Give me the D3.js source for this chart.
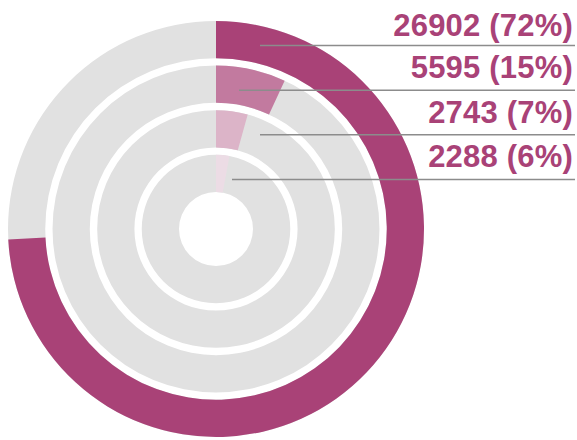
<!DOCTYPE html>
<html>
<head>
<meta charset="utf-8">
<script src="https://cdn.jsdelivr.net/npm/d3@7"></script>
<style>
    body { margin: 0; background: #fff; }
    text { font-family: "Liberation Sans", Arial, sans-serif; font-weight: bold; }
</style>
</head>
<body>
<div id="chart"></div>
<script>
// ring categories, outermost first
var rings = ["A", "B", "C", "D"];
// counts shown in the labels
var counts = [26902, 5595, 2743, 2288];
// share of the full circle covered by each coloured arc
var arcShare = [0.742, 0.069, 0.043, 0.029];
var ringColors = ["#a94277", "#c27a9f", "#dcb4c8", "#ecdce5"];

var width = 577, height = 440;
var cx = 216, cy = 229;
// where each leader line starts, measured right of the centre
var leaderInset = [44, 23, 44, 16];

var svg = d3.select("#chart").append("svg")
    .attr("width", width)
    .attr("height", height);

var g = svg.append("g")
    .attr("transform", "translate(" + cx + "," + cy + ")");

// radius band per ring (innermost ring closest to the hole)
var r = d3.scaleBand()
    .domain(rings.slice().reverse())
    .range([37, 208])
    .paddingInner(0.165);

var angle = d3.scaleLinear()
    .domain([0, 1])
    .range([0, 2 * Math.PI]);

var total = d3.sum(counts);
var pct = d3.format(".0%");

var arc = d3.arc()
    .innerRadius(function(d) { return r(d.ring); })
    .outerRadius(function(d) { return r(d.ring) + r.bandwidth(); })
    .startAngle(0)
    .endAngle(function(d) { return angle(d.share); });

var data = rings.map(function(k, i) {
    return { ring: k, count: counts[i], share: arcShare[i], color: ringColors[i], i: i };
});

// grey tracks
g.selectAll("path.track")
    .data(data)
    .enter()
    .append("path")
    .attr("class", "track")
    .attr("fill", "#e1e1e1")
    .attr("d", function(d) { return arc({ ring: d.ring, share: 1 }); });

// coloured arcs
g.selectAll("path.value")
    .data(data)
    .enter()
    .append("path")
    .attr("class", "value")
    .attr("fill", function(d) { return d.color; })
    .attr("d", arc);

// leader lines + labels
var labelRight = 573;
data.forEach(function(d) {
    var mid = r(d.ring) + r.bandwidth() / 2;
    var ly = cy - mid + 6;

    svg.append("line")
        .attr("x1", cx + leaderInset[d.i])
        .attr("x2", labelRight + 2)
        .attr("y1", ly)
        .attr("y2", ly)
        .attr("stroke", "#8c8c8c")
        .attr("stroke-width", 1.5);

    svg.append("text")
        .attr("x", labelRight)
        .attr("y", ly - (d.i == 0 ? 10 : 12))
        .attr("text-anchor", "end")
        .attr("fill", "#a94277")
        .style("font-size", "31px")
        .style("letter-spacing", "0.2px")
        .text(d.count + " (" + pct(d.count / total) + ")");
});
</script>
</body>
</html>
